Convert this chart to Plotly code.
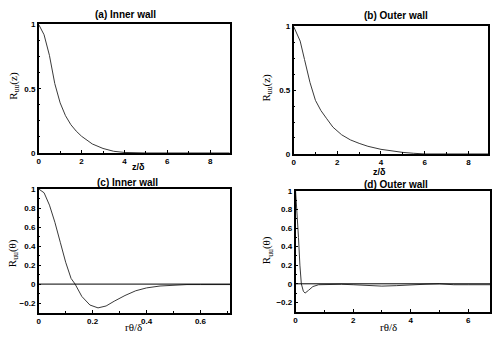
import plotly.graph_objects as go

# (a) Inner wall, correlation vs z/delta
za = [0, 0.25, 0.5, 0.75, 1.0, 1.25, 1.5, 1.75, 2.0, 2.5, 3.0, 3.5, 4.0, 4.5, 5.0, 6.0, 7.0, 8.0, 8.9]
Ra = [1.0, 0.92, 0.76, 0.54, 0.39, 0.29, 0.22, 0.17, 0.13, 0.07, 0.035, 0.013, 0.004, 0.001, 0.0, 0.0, 0.0, 0.0, 0.0]

# (b) Outer wall
zb = [0, 0.3, 0.5, 0.75, 1.0, 1.25, 1.5, 1.8, 2.2, 2.6, 3.0, 3.4, 4.0, 4.5, 5.0, 5.5, 6.0, 7.0, 8.0, 8.9]
Rb = [1.0, 0.885, 0.74, 0.56, 0.42, 0.34, 0.28, 0.21, 0.15, 0.11, 0.083, 0.06, 0.036, 0.022, 0.012, 0.005, 0.0, 0.0, 0.0, 0.0]

# (c) Inner wall, azimuthal
tc = [0, 0.02, 0.04, 0.06, 0.08, 0.1, 0.12, 0.135, 0.16, 0.19, 0.22, 0.25, 0.28, 0.32, 0.36, 0.4, 0.45, 0.5, 0.55, 0.6, 0.71]
Rc = [1.0, 0.96, 0.83, 0.65, 0.44, 0.23, 0.06, 0.0, -0.13, -0.22, -0.25, -0.23, -0.18, -0.12, -0.07, -0.04, -0.02, -0.01, -0.005, -0.005, -0.005]

# (d) Outer wall, azimuthal
td = [0, 0.05, 0.1, 0.15, 0.2, 0.27, 0.33, 0.45, 0.6, 0.8, 1.2, 1.6, 2.0, 2.5, 3.0, 3.5, 4.0, 4.5, 5.0, 5.5, 6.0, 6.76]
Rd = [1.0, 0.8, 0.5, 0.2, 0.0, -0.08, -0.1, -0.07, -0.03, -0.01, -0.005, -0.005, -0.01, -0.015, -0.025, -0.02, -0.01, -0.005, 0.0, -0.01, -0.01, -0.01]

xticks_z = [0, 2, 4, 6, 8]
yticks_z = [0, 0.5, 1]
yticklab_z = ["0", "0.5", "1"]
xticks_c = [0, 0.2, 0.4, 0.6]
yticks_t = [-0.2, 0, 0.2, 0.4, 0.6, 0.8, 1]
xticks_d = [0, 2, 4, 6]

W, H = 492, 341
def fx(p):
    return p / W
def fy(p):
    return 1 - p / H

line = dict(color="#3a3a3a", width=1)
fig = go.Figure()
fig.add_trace(go.Scatter(x=za, y=Ra, mode="lines", line=line, xaxis="x", yaxis="y"))
fig.add_trace(go.Scatter(x=zb, y=Rb, mode="lines", line=line, xaxis="x2", yaxis="y2"))
fig.add_trace(go.Scatter(x=tc, y=Rc, mode="lines", line=line, xaxis="x3", yaxis="y3"))
fig.add_trace(go.Scatter(x=td, y=Rd, mode="lines", line=line, xaxis="x4", yaxis="y4"))

tickfont = dict(family="Liberation Sans", size=8, color="black", weight="bold")

def ax(domain, rng, tickvals, ticktext=None, anchor=None, minor_dtick=None):
    d = dict(domain=domain, range=rng, tickvals=tickvals, showgrid=False, zeroline=False,
             showline=True, linecolor="black", linewidth=1.5, mirror=True,
             ticks="inside", ticklen=3, tickcolor="black", tickwidth=1,
             tickfont=tickfont, anchor=anchor, ticklabelstandoff=0)
    if ticktext is not None:
        d["ticktext"] = ticktext
    if minor_dtick is not None:
        d["minor"] = dict(dtick=minor_dtick, ticks="inside", ticklen=2, tickcolor="black")
    return d

fig.update_layout(
    width=W, height=H, margin=dict(l=0, r=0, t=0, b=0),
    paper_bgcolor="white", plot_bgcolor="white", showlegend=False,
    xaxis=ax([fx(37), fx(230)], [0, 8.93], xticks_z, anchor="y", minor_dtick=1),
    yaxis=ax([fy(153), fy(21)], [0, 1], yticks_z, yticklab_z, anchor="x", minor_dtick=0.125),
    xaxis2=ax([fx(294), fx(490)], [0, 8.9], xticks_z, anchor="y2", minor_dtick=1),
    yaxis2=ax([fy(154), fy(23)], [0, 1], yticks_z, yticklab_z, anchor="x2", minor_dtick=0.125),
    xaxis3=ax([fx(37), fx(230)], [0, 0.71], xticks_c, anchor="y3", minor_dtick=0.1),
    yaxis3=ax([fy(317), fy(190)], [-0.3, 1], yticks_t, anchor="x3", minor_dtick=0.1),
    xaxis4=ax([fx(296), 1.0], [0, 6.76], xticks_d, anchor="y4", minor_dtick=1),
    yaxis4=ax([fy(316), fy(192)], [-0.3, 1], yticks_t, anchor="x4", minor_dtick=0.1),
)

# zero lines for (c) and (d)
fig.add_shape(type="line", xref="x3 domain", yref="y3", x0=0, x1=1, y0=0, y1=0, line=dict(color="black", width=1))
fig.add_shape(type="line", xref="x4 domain", yref="y4", x0=0, x1=1, y0=0, y1=0, line=dict(color="black", width=1))

titlefont = dict(family="Liberation Sans", size=10, color="black", weight="bold")
labfont = dict(family="Liberation Serif", size=11, color="black")
zfont = dict(family="Liberation Sans", size=9, color="black", weight="bold")

def txt(x, y, s, font, angle=0):
    fig.add_annotation(x=fx(x), y=fy(y), xref="paper", yref="paper", text=s, showarrow=False,
                       font=font, textangle=angle, xanchor="center", yanchor="middle", borderpad=0)

txt(125, 11, "(a) Inner wall", titlefont)
txt(397, 12, "(b) Outer wall", titlefont)
txt(127, 183, "(c) Inner wall", titlefont)
txt(397, 185, "(d) Outer wall", titlefont)

txt(138, 167, "z/δ", zfont)
txt(381, 173, "z/δ", zfont)
txt(133, 332, "rθ/δ", labfont)
txt(390, 332, "rθ/δ", labfont)

txt(12, 84, "R<sub>uu</sub>(z)", labfont, -90)
txt(267, 86, "R<sub>uu</sub>(z)", labfont, -90)
txt(11, 256, "R<sub>uu</sub>(θ)", labfont, -90)
txt(268, 253, "R<sub>uu</sub>(θ)", labfont, -90)

fig.write_html("out.html")
